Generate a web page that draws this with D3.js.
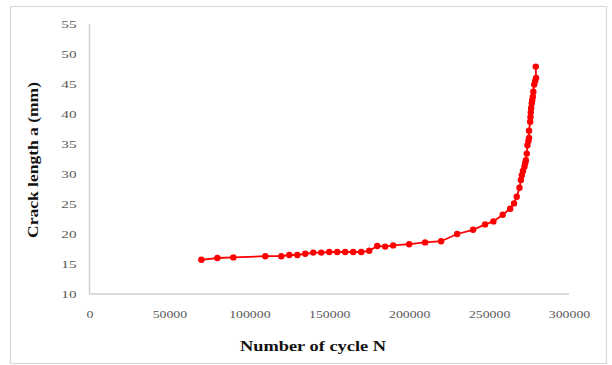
<!DOCTYPE html>
<html>
<head>
<meta charset="utf-8">
<script src="https://cdn.jsdelivr.net/npm/d3@7"></script>
<style>
  html, body { margin: 0; padding: 0; background: #fff; }
  svg { display: block; }
</style>
</head>
<body>
<svg id="chart" width="612" height="365"></svg>
<script>
// ---- data ----
const cycles = [70000, 80000, 90000, 110000, 120000, 125000, 130000, 135000, 140000, 145000,
  150000, 155000, 160000, 165000, 170000, 175000, 180000, 185000, 190000, 200000,
  210000, 220000, 230000, 240000, 247500, 252700, 258500, 263200, 265600, 267300,
  269000, 269900, 270500, 271200, 272100, 272600, 273000, 273600, 274000, 274600,
  275000, 275000, 275700, 275900, 276100, 276300, 276700, 277000, 277400, 277700,
  278200, 278800, 279400, 279200];
const crackLength = [15.7, 16.0, 16.1, 16.3, 16.3, 16.5, 16.5, 16.7, 16.9, 16.9,
  17.0, 17.0, 17.0, 17.0, 17.0, 17.2, 18.0, 17.9, 18.1, 18.3,
  18.6, 18.8, 20.0, 20.7, 21.6, 22.1, 23.2, 24.2, 25.1, 26.2,
  27.7, 29.0, 29.8, 30.5, 31.2, 31.8, 32.3, 33.4, 34.8, 35.5,
  36.0, 37.2, 38.7, 39.5, 40.3, 41.0, 41.8, 42.3, 42.9, 43.7,
  44.9, 45.5, 46.0, 47.9];
const xTicks = [0, 50000, 100000, 150000, 200000, 250000, 300000];
const yTicks = [10, 15, 20, 25, 30, 35, 40, 45, 50, 55];
const xTitle = "Number of cycle N";
const yTitle = "Crack length a (mm)";

const svg = d3.select("#chart");

// outer chart border
svg.append("rect")
  .attr("x", 10.5).attr("y", 6.5).attr("width", 596).attr("height", 357)
  .attr("fill", "#fff").attr("stroke", "#d9d9d9").attr("stroke-width", 1.2);

const x = d3.scaleLinear().domain([0, 300000]).range([89.5, 569]);
const y = d3.scaleLinear().domain([10, 55]).range([294, 24]);

// axis lines
svg.append("line")
  .attr("x1", x(0)).attr("x2", x(0)).attr("y1", y(55)).attr("y2", y(10))
  .attr("stroke", "#d0d0d0").attr("stroke-width", 1.5);
svg.append("line")
  .attr("x1", x(0)).attr("x2", x(300000)).attr("y1", y(10)).attr("y2", y(10))
  .attr("stroke", "#d0d0d0").attr("stroke-width", 1.5);

// axes (labels only)
const xAxis = d3.axisBottom(x).tickValues(xTicks).tickSize(0).tickPadding(0).tickFormat(d3.format("d"));
const gx = svg.append("g").attr("transform", `translate(0,${y(10) + 24})`).call(xAxis);
gx.select(".domain").remove();
gx.selectAll("text")
  .attr("dy", 0)
  .attr("font-family", "Liberation Serif, serif")
  .attr("font-size", 11)
  .attr("fill", "#595959")
  .attr("textLength", d => String(d).length * 6.9)
  .attr("lengthAdjust", "spacingAndGlyphs");

const yAxis = d3.axisLeft(y).tickValues(yTicks).tickSize(0).tickPadding(0).tickFormat(d3.format("d"));
const gy = svg.append("g").attr("transform", `translate(${x(0) - 13},0)`).call(yAxis);
gy.select(".domain").remove();
gy.selectAll("text")
  .attr("dy", "0.35em")
  .attr("font-family", "Liberation Serif, serif")
  .attr("font-size", 11)
  .attr("fill", "#595959")
  .attr("textLength", d => String(d).length * 7.6)
  .attr("lengthAdjust", "spacingAndGlyphs");

// titles
svg.append("text")
  .attr("x", 313).attr("y", 351)
  .attr("text-anchor", "middle")
  .attr("font-family", "Liberation Serif, serif")
  .attr("font-weight", "bold")
  .attr("font-size", 15)
  .attr("fill", "#111")
  .attr("textLength", 146).attr("lengthAdjust", "spacingAndGlyphs")
  .text(xTitle);

svg.append("text")
  .attr("transform", "translate(38,160) rotate(-90)")
  .attr("text-anchor", "middle")
  .attr("font-family", "Liberation Serif, serif")
  .attr("font-weight", "bold")
  .attr("font-size", 14)
  .attr("fill", "#111")
  .attr("textLength", 156).attr("lengthAdjust", "spacingAndGlyphs")
  .text(yTitle);

// series
const data = cycles.map((c, i) => ({ n: c, a: crackLength[i] }));
const line = d3.line().x(d => x(d.n)).y(d => y(d.a));
svg.append("path")
  .datum(data)
  .attr("d", line)
  .attr("fill", "none")
  .attr("stroke", "#ff0000")
  .attr("stroke-width", 1.8);

svg.append("g").selectAll("circle")
  .data(data)
  .join("circle")
  .attr("cx", d => x(d.n))
  .attr("cy", d => y(d.a))
  .attr("r", 3.2)
  .attr("fill", "#ff0000");
</script>
</body>
</html>
